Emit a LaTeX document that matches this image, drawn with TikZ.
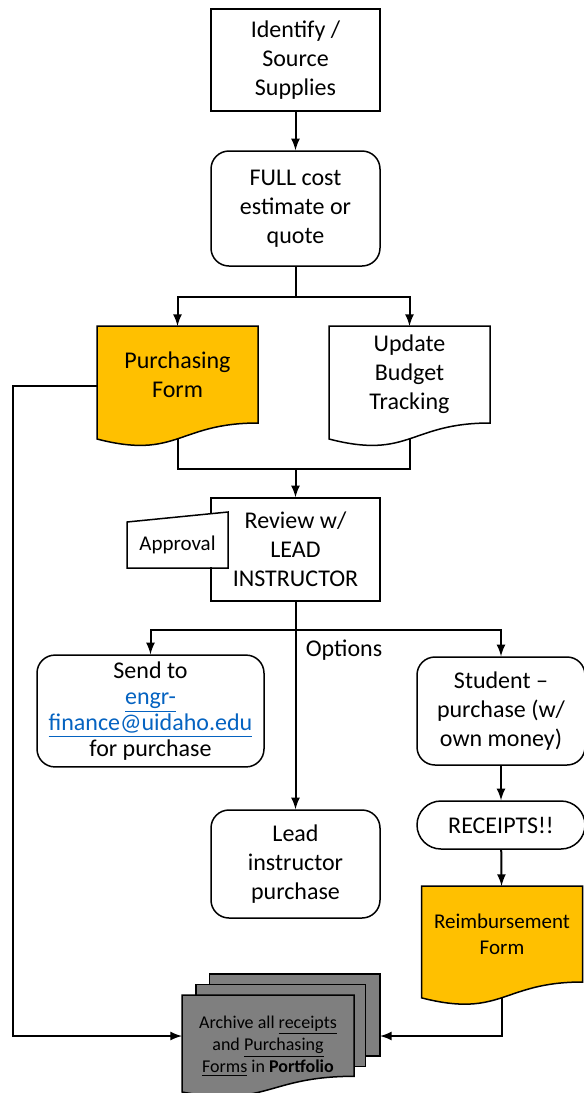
\documentclass[tikz,border=0pt]{standalone}
\usepackage{fontspec}
\setmainfont{Carlito}
\usetikzlibrary{calc,backgrounds}
\definecolor{formgold}{HTML}{FFC000}
\definecolor{archivegray}{HTML}{7F7F7F}
\definecolor{linkblue}{HTML}{0563C1}
\newcommand\link[1]{\textcolor{linkblue}{\underline{#1}}}
\newcommand\docpath[1]{(#1.north west) -- (#1.north east) -- (#1.south east)
  .. controls (#1.south) and ($(#1.south)!-0.38!(#1.north)$) .. ($(#1.south west)!-0.165!(#1.north west)$) -- cycle}
\tikzset{
  basic box/.style = {
    shape = rectangle,
    align = center,
    draw,
    line width = 0.75pt,
    fill = white,
    minimum width = 84.5pt,
    minimum height = 51pt},
  round box/.style = {basic box, rounded corners = 9pt},
  doc box/.style = {
    shape = rectangle,
    align = center,
    minimum width = 79.5pt,
    minimum height = 47.5pt},
  doc shape/.style = {draw, line width = 0.75pt, fill = #1}
}

\begin{document}
\begin{tikzpicture}[x = 0.5pt, y = -0.5pt, line width = 1pt, >=latex,
    nodes = {font = \fontsize{12}{14.5}\selectfont}]
  \useasboundingbox (0,0) rectangle (584,1093);
  \node[basic box] (identify) at (295.5,60) {Identify /\\ Source\\ Supplies};
  \node[round box, minimum height = 57.5pt] (estimate) at (295.5,208.5) {FULL cost\\ estimate or\\ quote};
  \node[doc box] (pform) at (177.5,374.5) {Purchasing\\ Form};
  \node[doc box] (budget) at (409.5,374.5) {Update\\ Budget\\ Tracking};
  \node[basic box, minimum height = 51.5pt] (review) at (295.5,549.5) {Review w/\\ LEAD\\ INSTRUCTOR};
  \node[shape = rectangle, fill = white, minimum width = 49.5pt, minimum height = 27pt,
    text height = 12pt, text depth = 2pt, font = \fontsize{10.5}{12.5}\selectfont] (approval) at (177.5,540) {Approval};
  \node[round box, minimum width = 113.5pt, minimum height = 54pt,
    font = \fontsize{12}{13}\selectfont] (send) at (150.5,711) {Send to\\ \link{engr-}\\ \link{finance@uidaho.edu}\\ for purchase};
  \node[round box, minimum width = 84pt, minimum height = 54pt] (student) at (501,711) {Student --\\ purchase (w/\\ own money)};
  \node (options) at (344,650) {Options};
  \node[round box, minimum height = 54pt] (lead) at (295.5,864) {Lead\\ instructor\\ purchase};
  \node[basic box, rounded corners = 12pt, minimum width = 84pt, minimum height = 24pt] (receipts) at (501,825) {RECEIPTS!!};
  \node[doc box, minimum height = 47pt, font = \fontsize{10.5}{12.8}\selectfont] (reimb) at (502,934) {Reimbursement\\ Form};
  \node[shape = rectangle, align = center, minimum width = 85pt, minimum height = 50pt,
    font = \fontsize{9}{11}\selectfont] (archive) at (268,1046)
    {Archive all \underline{receipts}\\ and \underline{Purchasing}\\ \underline{Forms} in \textbf{Portfolio}};

  % paper shapes behind the texts
  \begin{scope}[on background layer]
    \draw[doc shape = formgold] \docpath{pform};
    \draw[doc shape = white] \docpath{budget};
    \draw[doc shape = formgold] \docpath{reimb};
    \draw[doc shape = archivegray] ($(archive.north west)+(27.3,-20.8)$) rectangle ($(archive.north west)+(198,61.2)$);
    \draw[doc shape = archivegray] ($(archive.north west)+(14,-10.5)$) rectangle ($(archive.north west)+(183.4,71.3)$);
    \draw[doc shape = archivegray] (archive.north west) -- (archive.north east) -- ($(archive.north east)+(0,81.3)$)
      .. controls ($(archive.north west)+(85.3,81.3)$) and ($(archive.north west)+(85.3,112.6)$) .. ($(archive.north west)+(0,97)$) -- cycle;
  \end{scope}
  \draw[line width = 0.75pt] (approval.south west) -- ($(approval.north west)+(0,10)$) -- (approval.north east) -- (approval.south east) -- cycle;

  \coordinate (pformend) at ($(pform.south)!-0.163!(pform.north)$);
  \coordinate (budgetend) at ($(budget.south)!-0.163!(budget.north)$);
  \coordinate (reimbend) at ($(reimb.south)!-0.163!(reimb.north)$);
  \coordinate (pformout) at ($(pform.north west)+(0,60)$);
  \coordinate (merge) at (295.5,469);
  \coordinate (archivein) at ($(archive.north west)+(198,41)$);
  \coordinate (archiveleft) at ($(archive.north west)+(0,41)$);

  \draw[->] (identify) -- (estimate);
  \draw[->] (estimate.south) -- ++(0,30) -| (pform.north);
  \draw[->] (estimate.south) -- ++(0,30) -| (budget.north);
  \draw (pformend) |- (merge) -| (budgetend);
  \draw[->] (merge) -- (review);
  \draw[->] (review.south) -- ++(0,28) -| (send.north);
  \draw[->] (review.south) -- ++(0,28) -| (student.north);
  \draw[->] (review) -- (lead);
  \draw[->] (student) -- (receipts);
  \draw[->] (receipts) -- (reimb);
  \draw[->] (reimbend) |- (archivein);
  \draw[->] (pformout) -- ++(-84,0) |- (archiveleft);
\end{tikzpicture}
\end{document}
